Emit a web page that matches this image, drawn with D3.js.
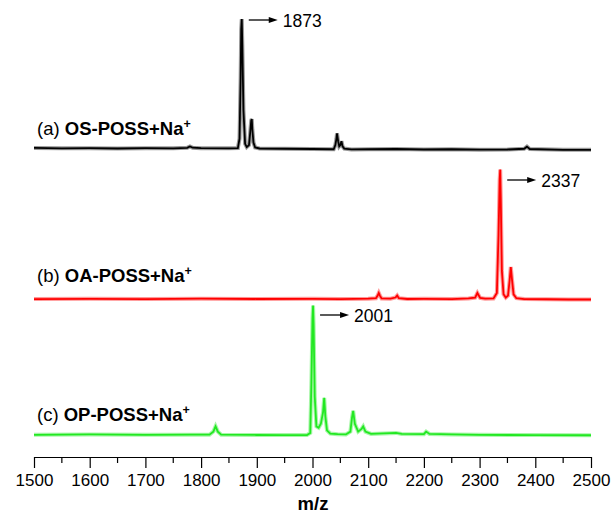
<!DOCTYPE html>
<html>
<head>
<meta charset="utf-8">
<script src="https://cdn.jsdelivr.net/npm/d3@7"></script>
<style>
  body { margin: 0; background: #fff; }
  svg { font-family: "Liberation Sans", Arial, sans-serif; }
</style>
</head>
<body>
<script>
// m/z positions and relative intensity (% of the main peak) for each spectrum
var mzA = [1500,1550,1600,1650,1700,1750,1775,1780,1785,1800,1850,1866,1869,1871,1872,1873,1874,1876,1879,1882,1886,1888,1890,1891,1892,1894,1897,1905,1950,2000,2038,2041,2043,2044,2046,2048,2050,2052,2054,2057,2070,2100,2150,2200,2250,2300,2350,2380,2385,2390,2450,2500];
var intA = [0.8,0.5,0.6,0.4,0.6,0.5,0.9,2,1,0.6,0.5,0.7,8,55,92,100,80,30,4,1.5,3,12,22,23,15,5,1.2,0.4,0.2,0,-0.2,3,8,12,6,2,3,6,2,0.3,-0.3,-0.2,0,-0.4,-0.2,-0.5,-0.4,0.2,1.8,0,-0.6,-0.6];

var mzB = [1500,1600,1700,1800,1900,2000,2050,2100,2114,2117,2119,2121,2124,2140,2149,2152,2155,2170,2200,2250,2280,2292,2296,2298,2301,2310,2325,2331,2334,2336,2337,2338,2340,2343,2347,2351,2354,2356,2358,2361,2366,2380,2420,2460,2500];
var intB = [0.3,0.5,0.3,0.6,0.4,0.5,0.3,0.6,1,3,5,3,0.8,0.6,1.5,3,1,0.4,0.5,0.3,0.8,1.5,5,3.5,1.2,0.6,0.8,5,50,92,100,78,22,4,1.5,3,15,25,16,4,1,0.3,0.2,0,0];

var mzC = [1500,1600,1700,1780,1815,1822,1826,1830,1836,1900,1950,1990,1996,1998,2000,2001,2002,2004,2007,2011,2015,2019,2021,2023,2026,2032,2045,2060,2068,2071,2073,2076,2082,2088,2091,2095,2105,2150,2160,2200,2204,2210,2250,2300,2400,2500];
var intC = [0.5,0.8,0.5,0.6,0.6,3,7,3,0.6,0.4,0.3,0.4,2,40,90,100,85,30,7,6,9,18,29,15,4,1.5,1,0.8,3,14,19,9,3,5,7,3,1.2,2,1.2,1,3,1.2,0.8,0.5,0.3,0.2];

var tags = ["(a)", "(b)", "(c)"];
var names = ["OS-POSS+Na", "OA-POSS+Na", "OP-POSS+Na"];
var peakLabels = [1873, 2337, 2001];
var tickValues = [1500,1600,1700,1800,1900,2000,2100,2200,2300,2400,2500];

var width = 614, height = 519;
var svg = d3.select("body").append("svg")
    .attr("width", width)
    .attr("height", height);

var x = d3.scaleLinear().domain([1500, 2500]).range([34, 591]);

var series = [
  { mz: mzA, inten: intA, base: 149, color: "#000000", labelY: 135, arrowY: 20 },
  { mz: mzB, inten: intB, base: 299.5, color: "#ff0000", labelY: 282, arrowY: 180 },
  { mz: mzC, inten: intC, base: 435.5, color: "#22e822", labelY: 421, arrowY: 315 }
];

series.forEach(function(s, i) {
  var y = d3.scaleLinear().domain([0, 100]).range([s.base, s.base - 130]);
  var pts = s.mz.map(function(m, j) { return [m, s.inten[j]]; });
  var line = d3.line()
      .x(function(d) { return x(d[0]); })
      .y(function(d) { return y(d[1]); });

  // fuzzy noisy look: wide faint stroke under a solid one
  svg.append("path").datum(pts)
      .attr("d", line)
      .attr("fill", "none")
      .attr("stroke", s.color)
      .attr("stroke-opacity", 0.4)
      .attr("stroke-width", 4);
  svg.append("path").datum(pts)
      .attr("d", line)
      .attr("fill", "none")
      .attr("stroke", s.color)
      .attr("stroke-width", 1.8);

  // series label
  var t = svg.append("text")
      .attr("x", 37)
      .attr("y", s.labelY)
      .attr("font-size", "18.5px")
      .attr("fill", "#000");
  t.append("tspan").text(tags[i] + " ");
  t.append("tspan").attr("font-weight", "bold").text(names[i]);
  t.append("tspan").attr("font-weight", "bold").attr("font-size", "12.5px")
      .attr("dy", -7).text("+");

  // arrow and peak value
  var px = x(peakLabels[i]);
  svg.append("line")
      .attr("x1", px + 7).attr("x2", px + 28)
      .attr("y1", s.arrowY).attr("y2", s.arrowY)
      .attr("stroke", "#000").attr("stroke-width", 1.3);
  svg.append("path")
      .attr("d", "M" + (px + 36) + "," + s.arrowY + "L" + (px + 27) + "," + (s.arrowY - 3) +
                 "L" + (px + 27) + "," + (s.arrowY + 3) + "Z")
      .attr("fill", "#000");
  svg.append("text")
      .attr("x", px + 41)
      .attr("y", s.arrowY + 7)
      .attr("font-size", "17.5px")
      .attr("fill", "#000")
      .text(peakLabels[i]);
});

// x axis
var axis = d3.axisBottom(x)
    .tickValues(tickValues)
    .tickFormat(d3.format("d"))
    .tickSize(11)
    .tickSizeOuter(0)
    .tickPadding(6);
var gx = svg.append("g").attr("transform", "translate(0,457)").call(axis);
gx.selectAll("text").attr("font-size", "17px").attr("fill", "#000")
    .attr("font-family", "Liberation Sans, Arial, sans-serif");
gx.selectAll("line, path").attr("stroke", "#000").attr("stroke-width", 1.2);

// minor ticks
var minor = d3.range(1550, 2500, 100);
svg.append("g").selectAll("line").data(minor).enter().append("line")
    .attr("x1", function(d) { return x(d); })
    .attr("x2", function(d) { return x(d); })
    .attr("y1", 457).attr("y2", 463)
    .attr("stroke", "#000").attr("stroke-width", 1.2);

svg.append("text")
    .attr("x", 313)
    .attr("y", 510)
    .attr("text-anchor", "middle")
    .attr("font-size", "18.5px")
    .attr("font-weight", "bold")
    .text("m/z");
</script>
</body>
</html>
